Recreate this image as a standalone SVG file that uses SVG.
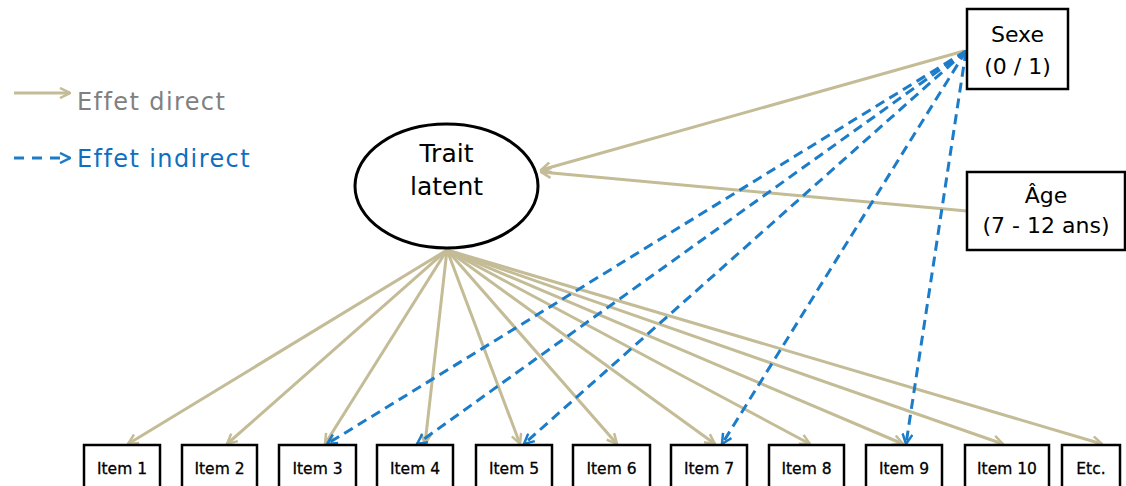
<svg xmlns="http://www.w3.org/2000/svg" width="1126" height="486" viewBox="0 0 1126 486">
  <style>
    .box { fill: #ffffff; stroke: #000000; stroke-width: 2.5; }
    .lbl { font-family: "DejaVu Sans", Verdana, sans-serif; fill: #000000; text-anchor: middle; }
    .item { font-size: 15.5px; stroke: #000000; stroke-width: 0.3; }
    .big { font-size: 22px; }
    .legend-text { font-family: "DejaVu Sans", Verdana, sans-serif; font-size: 24px; letter-spacing: 1.4px; font-variant-ligatures: none; }
    .direct { fill: none; stroke: #c4bc96; stroke-width: 3; marker-end: url(#tanHead); }
    .indirect { fill: none; stroke: #1c7cc8; stroke-width: 3; stroke-dasharray: 10 6; marker-end: url(#blueHead); }
  </style>
  <defs>
    <marker id="tanHead" viewBox="0 0 12 12" refX="11" refY="6" markerWidth="12" markerHeight="12" markerUnits="userSpaceOnUse" orient="auto">
      <path d="M1,1 L11,6 L1,11" fill="none" stroke="#c4bc96" stroke-width="2.5"/>
    </marker>
    <marker id="blueHead" viewBox="0 0 12 12" refX="11" refY="6" markerWidth="12" markerHeight="12" markerUnits="userSpaceOnUse" orient="auto">
      <path d="M1,1 L11,6 L1,11" fill="none" stroke="#1c7cc8" stroke-width="2.5"/>
    </marker>
  </defs>

  <!-- legend -->
  <g id="legend">
    <line class="direct" x1="14" y1="93" x2="70" y2="93"/>
    <text class="legend-text" x="77" y="110" fill="#808080">Effet direct</text>
    <line class="indirect" x1="14" y1="158" x2="70" y2="158" style="stroke-dasharray: 10 8;"/>
    <text class="legend-text" x="77" y="167" fill="#0f6fbf">Effet indirect</text>
  </g>

  <!-- connectors -->
  <g id="connectors">
    <!-- direct effects on the latent trait -->
    <line class="direct" x1="964" y1="51" x2="541" y2="170"/>
    <line class="direct" x1="967" y1="211" x2="541" y2="172"/>
    <!-- loadings of the latent trait on the items -->
    <line class="direct" x1="447" y1="250" x2="128" y2="444"/>
    <line class="direct" x1="447" y1="250" x2="227" y2="444"/>
    <line class="direct" x1="447" y1="250" x2="325" y2="444"/>
    <line class="direct" x1="447" y1="250" x2="425" y2="444"/>
    <line class="direct" x1="447" y1="250" x2="520" y2="444"/>
    <line class="direct" x1="447" y1="250" x2="617" y2="444"/>
    <line class="direct" x1="447" y1="250" x2="715" y2="444"/>
    <line class="direct" x1="447" y1="250" x2="810" y2="444"/>
    <line class="direct" x1="447" y1="250" x2="903" y2="444"/>
    <line class="direct" x1="447" y1="250" x2="1003" y2="444"/>
    <line class="direct" x1="447" y1="250" x2="1102" y2="444"/>
    <!-- indirect effects of sex on some items -->
    <line class="indirect" x1="966" y1="51" x2="327" y2="444"/>
    <line class="indirect" x1="966" y1="51" x2="417" y2="444"/>
    <line class="indirect" x1="966" y1="51" x2="524" y2="444"/>
    <line class="indirect" x1="966" y1="51" x2="722" y2="444"/>
    <line class="indirect" x1="966" y1="51" x2="906" y2="444"/>
  </g>

  <g id="trait">
    <ellipse cx="446.5" cy="186" rx="91.5" ry="62" fill="#ffffff" stroke="#000000" stroke-width="3"/>
    <text class="lbl" x="446.5" y="162" style="font-size: 25px;">Trait</text>
    <text class="lbl" x="446.5" y="195" style="font-size: 25px;">latent</text>
  </g>

  <g id="sexe">
    <rect class="box" x="967" y="9" width="101" height="80"/>
    <text class="lbl big" x="1017.5" y="42">Sexe</text>
    <text class="lbl big" x="1017.5" y="74">(0 / 1)</text>
  </g>

  <g id="age">
    <rect class="box" x="967" y="172" width="158" height="78"/>
    <text class="lbl big" x="1046" y="203">Âge</text>
    <text class="lbl big" x="1046" y="233">(7 - 12 ans)</text>
  </g>

  <g id="item1"><rect class="box" x="84" y="445" width="76" height="44"/><text class="lbl item" x="122" y="474">Item 1</text></g>
  <g id="item2"><rect class="box" x="182" y="445" width="75" height="44"/><text class="lbl item" x="219.5" y="474">Item 2</text></g>
  <g id="item3"><rect class="box" x="279" y="445" width="77" height="44"/><text class="lbl item" x="317.5" y="474">Item 3</text></g>
  <g id="item4"><rect class="box" x="377" y="445" width="76" height="44"/><text class="lbl item" x="415" y="474">Item 4</text></g>
  <g id="item5"><rect class="box" x="476" y="445" width="76" height="44"/><text class="lbl item" x="514" y="474">Item 5</text></g>
  <g id="item6"><rect class="box" x="573" y="445" width="77" height="44"/><text class="lbl item" x="611.5" y="474">Item 6</text></g>
  <g id="item7"><rect class="box" x="671" y="445" width="76" height="44"/><text class="lbl item" x="709" y="474">Item 7</text></g>
  <g id="item8"><rect class="box" x="769" y="445" width="75" height="44"/><text class="lbl item" x="806.5" y="474">Item 8</text></g>
  <g id="item9"><rect class="box" x="866" y="445" width="76" height="44"/><text class="lbl item" x="904" y="474">Item 9</text></g>
  <g id="item10"><rect class="box" x="965" y="445" width="84" height="44"/><text class="lbl item" x="1007" y="474">Item 10</text></g>
  <g id="etc"><rect class="box" x="1062" y="445" width="58" height="44"/><text class="lbl item" x="1091" y="474">Etc.</text></g>
</svg>
